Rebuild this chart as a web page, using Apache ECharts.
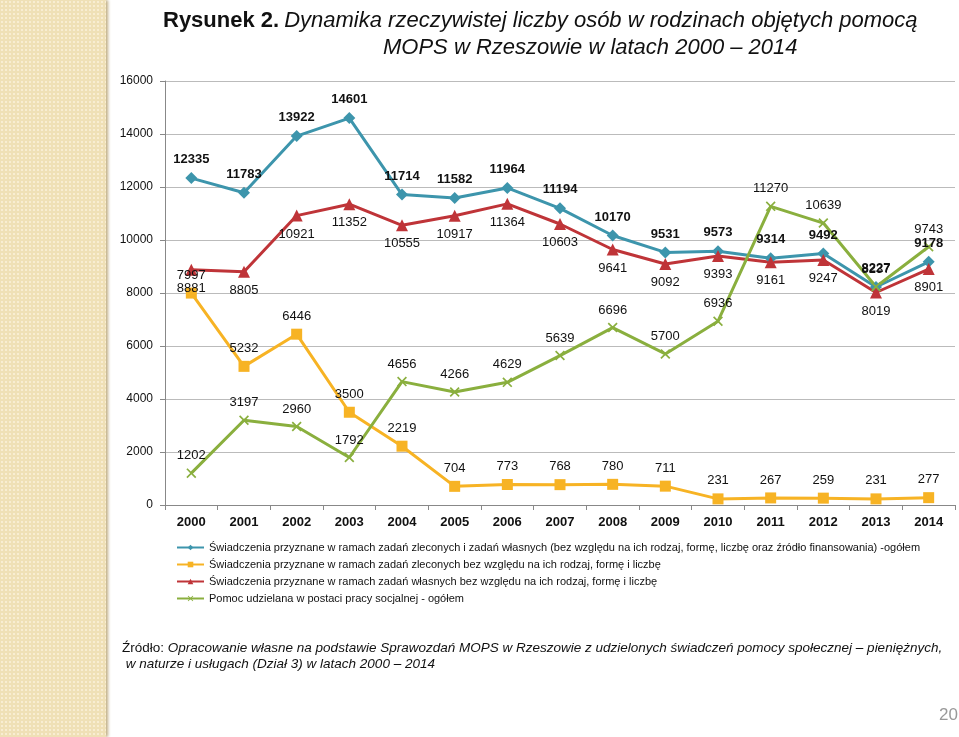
<!DOCTYPE html>
<html>
<head>
<meta charset="utf-8">
<script src="https://cdn.jsdelivr.net/npm/echarts@6/dist/echarts.min.js"></script>
<style>
html,body{margin:0;padding:0;background:#fff;}
#stripe{position:absolute;left:0;top:0;width:106px;height:737px;
background-color:#EFE0B6;
background-image:radial-gradient(circle,#F8EDD2 0.8px,transparent 1.2px);
background-size:4px 4px;
box-shadow:2px 0 3px #BFAE84;}
#chart{position:absolute;left:0;top:0;width:959px;height:737px;}
</style>
</head>
<body>
<div id="stripe"></div>
<div id="chart"></div>
<script>
var years = ['2000','2001','2002','2003','2004','2005','2006','2007','2008','2009','2010','2011','2012','2013','2014'];
var seriesNames = [
  'Świadczenia przyznane w ramach zadań zleconych i zadań własnych (bez względu na ich rodzaj, formę, liczbę oraz źródło finansowania) -ogółem',
  'Świadczenia przyznane w ramach zadań zleconych bez względu na ich rodzaj, formę i liczbę',
  'Świadczenia przyznane w ramach zadań własnych bez względu na ich rodzaj, formę i liczbę',
  'Pomoc udzielana w postaci pracy socjalnej - ogółem'
];
var totalValues = [12335, 11783, 13922, 14601, 11714, 11582, 11964, 11194, 10170, 9531, 9573, 9314, 9492, 8227, 9178];
var zleconeValues = [7997, 5232, 6446, 3500, 2219, 704, 773, 768, 780, 711, 231, 267, 259, 231, 277];
var wlasneValues = [8881, 8805, 10921, 11352, 10555, 10917, 11364, 10603, 9641, 9092, 9393, 9161, 9247, 8019, 8901];
var pracaValues = [1202, 3197, 2960, 1792, 4656, 4266, 4629, 5639, 6696, 5700, 6936, 11270, 10639, 8237, 9743];

var chart = echarts.init(document.getElementById('chart'));
var labelFont = 'Liberation Sans, Arial, sans-serif';
var crossPath = 'path://M0,1.2L1.2,0L10,8.8L8.8,10ZM8.8,0L10,1.2L1.2,10L0,8.8Z';

function mkSeries(name, data, color, symbol, size, pos, bold) {
  return {
    name: name, type: 'line', data: data,
    symbol: symbol, symbolSize: size,
    lineStyle: {color: color, width: 3},
    itemStyle: {color: color},
    label: {show: true, position: pos, distance: 6, color: '#111',
      fontFamily: labelFont, fontSize: 13, fontWeight: bold ? 'bold' : 'normal'},
    animation: false
  };
}

chart.setOption({
  backgroundColor: 'transparent',
  animation: false,
  title: [
    {text: '{b|Rysunek 2.} {i|Dynamika rzeczywistej liczby osób w rodzinach objętych pomocą}',
     left: 163, top: 10, padding: 0,
     textStyle: {fontWeight: 'normal', rich: {
       b: {fontFamily: labelFont, fontSize: 22, fontWeight: 'bold', color: '#111'},
       i: {fontFamily: labelFont, fontSize: 22, fontStyle: 'italic', fontWeight: 'normal', color: '#111'}
     }}},
    {text: 'MOPS w Rzeszowie w latach 2000 – 2014', left: 383, top: 37, padding: 0,
     textStyle: {fontFamily: labelFont, fontSize: 22, fontStyle: 'italic', fontWeight: 'normal', color: '#111'}},
    {text: '{r|Źródło: }{i|Opracowanie własne na podstawie Sprawozdań MOPS w Rzeszowie z udzielonych świadczeń pomocy społecznej – pieniężnych,}\n{i| w naturze i usługach (Dział 3) w latach 2000 – 2014}',
     left: 122, top: 640, padding: 0,
     textStyle: {fontWeight: 'normal', rich: {
       r: {fontFamily: labelFont, fontSize: 13.5, fontWeight: 'normal', color: '#111', lineHeight: 16},
       i: {fontFamily: labelFont, fontSize: 13.5, fontStyle: 'italic', fontWeight: 'normal', color: '#111', lineHeight: 16}
     }}},
    {text: '20', left: 939, top: 707, padding: 0,
     textStyle: {fontFamily: labelFont, fontSize: 17, fontWeight: 'normal', color: '#999'}}
  ],
  legend: {
    orient: 'vertical', left: 176, top: 541, padding: 0,
    itemWidth: 27, itemHeight: 7, itemGap: 4,
    textStyle: {fontFamily: labelFont, fontSize: 11, color: '#111', lineHeight: 13},
    data: seriesNames
  },
  grid: {left: 165, right: 4, top: 81, bottom: 232, containLabel: false},
  xAxis: {
    type: 'category', data: years, boundaryGap: true,
    axisLine: {lineStyle: {color: '#888', width: 1}},
    axisTick: {show: true, alignWithLabel: false, length: 5, lineStyle: {color: '#888'}},
    axisLabel: {fontFamily: labelFont, fontSize: 13, fontWeight: 'bold', color: '#111', margin: 11}
  },
  yAxis: {
    type: 'value', min: 0, max: 16000, interval: 2000,
    axisLine: {show: true, lineStyle: {color: '#888'}},
    axisTick: {show: true, length: 5, lineStyle: {color: '#888'}},
    axisLabel: {fontFamily: labelFont, fontSize: 12, color: '#111', margin: 12,
      formatter: function (v) { return String(v); }},
    splitLine: {lineStyle: {color: '#bbb', width: 1}}
  },
  series: [
    mkSeries(seriesNames[0], totalValues, '#3D95AC', 'diamond', 12, 'top', true),
    mkSeries(seriesNames[1], zleconeValues, '#F7B324', 'rect', 11, 'top', false),
    mkSeries(seriesNames[2], wlasneValues, '#BF3438', 'triangle', 12, 'bottom', false),
    mkSeries(seriesNames[3], pracaValues, '#8AAF3E', crossPath, 10, 'top', false)
  ]
});
</script>
</body>
</html>
